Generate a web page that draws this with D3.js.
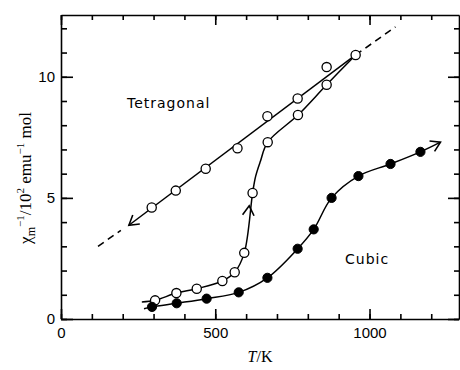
<!DOCTYPE html>
<html>
<head>
<meta charset="utf-8">
<script src="https://cdn.jsdelivr.net/npm/d3@7"></script>
<style>
  body { margin: 0; background: #fff; }
  .tick text { font-family: "Liberation Sans", Arial, sans-serif; font-size: 15px; fill: #000; }
  .lbl { font-family: "DejaVu Sans", sans-serif; font-size: 14px; letter-spacing: 1px; }
</style>
</head>
<body>
<div class="container"></div>
<script>
// tetragonal (cooling) open circles
var tetT = [294, 372, 469, 572, 669, 767, 861, 955];
var tetY = [4.6, 5.3, 6.2, 7.05, 8.37, 9.1, 10.4, 10.9];
// heating branch open circles
var heatT = [305, 374, 440, 523, 563, 594, 621, 670, 768, 861];
var heatY = [0.77, 1.07, 1.25, 1.57, 1.93, 2.73, 5.2, 7.3, 8.42, 9.67];
// cubic filled circles
var cubT = [295, 375, 472, 576, 669, 767, 819, 877, 964, 1068, 1165];
var cubY = [0.5, 0.65, 0.84, 1.1, 1.7, 2.9, 3.7, 5.0, 5.9, 6.4, 6.9];

// line traces
var tetLine = [[220, 3.87], [955, 10.9]];
var tetDashLo = [[120, 3.0], [194, 3.66]];
var tetDashHi = [[955, 10.9], [1084, 12.06]];
var heatLineStart = [262, 0.7];
var heatBend = [[631, 5.9], [646, 6.5]];
var heatLineEnd = [955, 10.9];
var cubLineStart = [269, 0.42];
var cubLineEnd = [1230, 7.3];
// arrow heads: [tip, from]
var arrows = [
  [[220, 3.87], [294, 4.6]],
  [[610, 4.67], [599, 3.2]],
  [[1230, 7.3], [1165, 6.9]]
];

var xMinor = d3.range(0, 1300, 100);
var xMajor = [0, 500, 1000];
var yMinor = d3.range(0, 13, 1);
var yMajor = [0, 5, 10];

var W = 460, H = 370;
var svg = d3.select(".container").append("svg")
  .attr("width", W).attr("height", H);

var x = d3.scaleLinear().domain([0, 1290]).range([61, 459]);
var y = d3.scaleLinear().domain([0, 12.55]).range([319, 15]);

function axisStyle(g) {
  g.selectAll("path, line").attr("stroke", "#000").attr("stroke-width", 1.6);
}

// bottom
svg.append("g").attr("transform", "translate(0," + y(0) + ")")
  .call(d3.axisBottom(x).tickValues(xMinor).tickSize(-5).tickSizeOuter(0).tickFormat(""))
  .call(axisStyle);
svg.append("g").attr("transform", "translate(0," + y(0) + ")")
  .call(d3.axisBottom(x).tickValues(xMajor).tickSize(-10).tickSizeOuter(0).tickPadding(8).tickFormat(d3.format("d")))
  .call(axisStyle).call(g => g.select(".domain").remove());
// top
svg.append("g").attr("transform", "translate(0," + y.range()[1] + ")")
  .call(d3.axisTop(x).tickValues(xMinor).tickSize(-5).tickSizeOuter(0).tickFormat(""))
  .call(axisStyle);
svg.append("g").attr("transform", "translate(0," + y.range()[1] + ")")
  .call(d3.axisTop(x).tickValues(xMajor).tickSize(-10).tickSizeOuter(0).tickFormat(""))
  .call(axisStyle).call(g => g.select(".domain").remove());
// left
svg.append("g").attr("transform", "translate(" + x(0) + ",0)")
  .call(d3.axisLeft(y).tickValues(yMinor).tickSize(-6).tickSizeOuter(0).tickFormat(""))
  .call(axisStyle);
svg.append("g").attr("transform", "translate(" + x(0) + ",0)")
  .call(d3.axisLeft(y).tickValues(yMajor).tickSize(-12).tickSizeOuter(0).tickPadding(6).tickFormat(d3.format("d")))
  .call(axisStyle).call(g => g.select(".domain").remove());
// right
svg.append("g").attr("transform", "translate(" + x.range()[1] + ",0)")
  .call(d3.axisRight(y).tickValues(yMinor).tickSize(-5).tickSizeOuter(0).tickFormat(""))
  .call(axisStyle);
svg.append("g").attr("transform", "translate(" + x.range()[1] + ",0)")
  .call(d3.axisRight(y).tickValues(yMajor).tickSize(-11).tickSizeOuter(0).tickFormat(""))
  .call(axisStyle).call(g => g.select(".domain").remove());

svg.selectAll(".tick text").attr("fill", "#000");

var line = d3.line().x(d => x(d[0])).y(d => y(d[1]));
var curve = d3.line().x(d => x(d[0])).y(d => y(d[1])).curve(d3.curveCatmullRom.alpha(0.5));

// tetragonal straight line
svg.append("path").datum(tetLine).attr("d", line)
  .attr("fill", "none").attr("stroke", "#000").attr("stroke-width", 1.5);
[tetDashLo, tetDashHi].forEach(function(seg) {
  svg.append("path").datum(seg).attr("d", line)
    .attr("fill", "none").attr("stroke", "#000").attr("stroke-width", 1.6)
    .attr("stroke-dasharray", "7,5");
});

// heating curve
var heatPts = [heatLineStart].concat(heatT.map((t, i) => [t, heatY[i]]));
heatPts = heatPts.slice(0, 8).concat(heatBend).concat(heatPts.slice(8)).concat([heatLineEnd]);
svg.append("path").datum(heatPts).attr("d", curve)
  .attr("fill", "none").attr("stroke", "#000").attr("stroke-width", 1.5);

// cubic curve
var cubPts = [cubLineStart].concat(cubT.map((t, i) => [t, cubY[i]])).concat([cubLineEnd]);
svg.append("path").datum(cubPts).attr("d", curve)
  .attr("fill", "none").attr("stroke", "#000").attr("stroke-width", 1.5);

// arrow heads
arrows.forEach(function(a) {
  var tx = x(a[0][0]), ty = y(a[0][1]);
  var fx = x(a[1][0]), fy = y(a[1][1]);
  var ang = Math.atan2(fy - ty, fx - tx);
  var L = 11, s = 0.55;
  var p = "M" + (tx + L * Math.cos(ang + s)) + "," + (ty + L * Math.sin(ang + s)) +
          "L" + tx + "," + ty +
          "L" + (tx + L * Math.cos(ang - s)) + "," + (ty + L * Math.sin(ang - s));
  svg.append("path").attr("d", p).attr("fill", "none")
    .attr("stroke", "#000").attr("stroke-width", 1.6);
});

// markers
function openCircles(T, Y) {
  svg.append("g").selectAll("circle").data(T).join("circle")
    .attr("cx", d => x(d)).attr("cy", (d, i) => y(Y[i])).attr("r", 4.6)
    .attr("fill", "#fff").attr("stroke", "#000").attr("stroke-width", 1.3);
}
openCircles(tetT, tetY);
openCircles(heatT, heatY);
svg.append("g").selectAll("circle").data(cubT).join("circle")
  .attr("cx", d => x(d)).attr("cy", (d, i) => y(cubY[i])).attr("r", 4.6)
  .attr("fill", "#000").attr("stroke", "#000").attr("stroke-width", 1);

// labels
svg.append("text").attr("class", "lbl").attr("x", 127).attr("y", 108).text("Tetragonal");
svg.append("text").attr("class", "lbl").attr("x", 345).attr("y", 264).text("Cubic");

svg.append("text").attr("x", 260).attr("y", 362).attr("text-anchor", "middle")
  .style("font-family", "'Liberation Serif', serif").style("font-size", "16px")
  .html("<tspan font-style='italic'>T</tspan>/K");

var yl = svg.append("text").attr("transform", "translate(31,178) rotate(-90)")
  .attr("text-anchor", "middle")
  .style("font-family", "'Liberation Serif', serif").style("font-size", "17px");
yl.append("tspan").text("χ");
yl.append("tspan").attr("font-size", "12px").attr("dy", 4).text("m");
yl.append("tspan").attr("font-size", "11px").attr("dy", -11).text("−1");
yl.append("tspan").attr("dy", 7).text("/10");
yl.append("tspan").attr("font-size", "11px").attr("dy", -7).text("2");
yl.append("tspan").attr("dy", 7).text(" emu");
yl.append("tspan").attr("font-size", "11px").attr("dy", -7).text("−1");
yl.append("tspan").attr("dy", 7).text(" mol");
</script>
</body>
</html>
